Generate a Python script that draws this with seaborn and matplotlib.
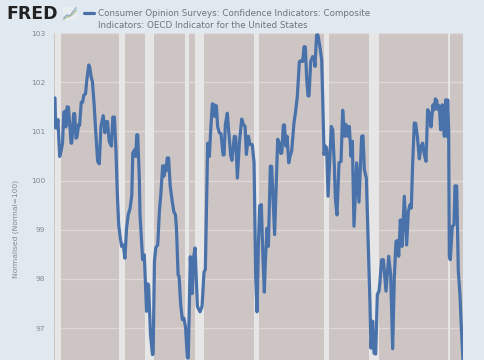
#!/usr/bin/env python
# -*- coding: utf-8 -*-

import matplotlib
matplotlib.use('Agg')
import matplotlib.pyplot as plt
import seaborn as sns
import pandas as pd

years = [
  1960.15, 1960.25, 1960.4, 1960.6, 1960.86, 1961.07, 1961.3, 1961.5, 1961.7, 1961.8, 1962.0, 1962.2,
  1962.6, 1962.7, 1963.0, 1963.15, 1963.35, 1963.5, 1963.75, 1963.9, 1964.15, 1964.35, 1964.55, 1964.8,
  1965.0, 1965.3, 1965.45, 1965.65, 1965.85, 1966.1, 1966.4, 1966.65, 1966.9, 1967.15, 1967.5, 1967.75,
  1967.9, 1968.15, 1968.4, 1968.75, 1968.95, 1969.2, 1969.45, 1969.65, 1969.85, 1970.1, 1970.3, 1970.55,
  1970.8, 1971.05, 1971.3, 1971.6, 1971.85, 1972.0, 1972.3, 1972.45, 1972.6, 1972.75, 1973.0, 1973.1,
  1973.3, 1973.5, 1973.75, 1974.1, 1974.25, 1974.4, 1974.7, 1975.0, 1975.1, 1975.3, 1975.5, 1975.8,
  1976.05, 1976.25, 1976.55, 1976.75, 1976.9, 1977.05, 1977.25, 1977.45, 1977.7, 1978.0, 1978.25, 1978.5,
  1978.65, 1978.9, 1979.05, 1979.3, 1979.55, 1979.8, 1980.05, 1980.3, 1980.45, 1980.76, 1981.05, 1981.25,
  1981.48, 1981.84, 1982.24, 1982.55, 1982.85, 1983.05, 1983.26, 1983.41, 1983.66, 1983.87, 1984.12, 1984.37,
  1984.53, 1984.73, 1984.93, 1985.19, 1985.44, 1985.75, 1985.9, 1986.1, 1986.4, 1986.6, 1986.91, 1987.1,
  1987.47, 1987.67, 1987.93, 1988.23, 1988.59, 1988.84, 1989.1, 1989.3, 1989.6, 1989.86, 1990.2, 1990.47,
  1990.72, 1990.92, 1991.13, 1991.33, 1991.58, 1991.79, 1992.04, 1992.19, 1992.45, 1992.65, 1992.95, 1993.15,
  1993.6, 1994.07, 1994.32, 1994.53, 1994.7, 1994.93, 1995.1, 1995.3, 1995.5, 1995.75, 1995.95, 1996.2,
  1996.55, 1996.8, 1997.06, 1997.37, 1997.72, 1997.87, 1998.08, 1998.28, 1998.49, 1998.69, 1998.84, 1999.1,
  1999.4, 1999.6, 1999.75, 2000.0, 2000.2, 2000.5, 2000.77, 2000.92, 2001.13, 2001.33, 2001.53, 2001.74,
  2002.24, 2002.45, 2002.7, 2002.85, 2003.1, 2003.41, 2003.72, 2003.97, 2004.27, 2004.47, 2004.73, 2004.98,
  2005.24, 2005.44, 2005.69, 2005.9, 2006.1, 2006.45, 2006.86, 2007.06, 2007.27, 2007.57, 2007.87, 2008.13,
  2008.28, 2008.53, 2008.74, 2008.99, 2009.25, 2009.5, 2009.65, 2009.9, 2010.16, 2010.57, 2010.97, 2011.28,
  2011.58, 2011.83, 2012.09, 2012.3, 2012.5, 2012.75, 2013.0, 2013.36, 2013.71, 2013.97, 2014.22, 2014.42,
  2014.63, 2014.88, 2015.08, 2015.34, 2015.64, 2015.9, 2016.15, 2016.4, 2016.66, 2016.91, 2017.16, 2017.42,
  2017.72, 2017.92, 2018.08, 2018.28, 2018.48, 2018.69, 2018.89, 2019.14, 2019.45, 2019.65, 2019.8, 2019.96,
  2020.11, 2020.21, 2020.36, 2020.67, 2020.92, 2021.07, 2021.33, 2021.58, 2021.83, 2022.04, 2022.29,
]
values = [
  101.68, 101.07, 101.07, 101.24, 100.49, 100.59, 100.76, 101.39, 101.41, 101.09, 101.5, 101.49,
  100.76, 100.76, 101.36, 101.36, 100.86, 100.88, 101.14, 101.12, 101.59, 101.59, 101.74, 101.76,
  102.05, 102.35, 102.3, 102.11, 102.01, 101.57, 100.9, 100.39, 100.34, 101.1, 101.32, 100.97,
  101.2, 101.2, 100.8, 100.7, 101.29, 101.29, 100.56, 99.71, 99.1, 98.83, 98.66, 98.69,
  98.42, 99.03, 99.3, 99.44, 99.71, 100.56, 100.63, 100.49, 100.93, 100.93, 100.02, 99.3,
  98.83, 98.39, 98.49, 97.34, 97.9, 97.88, 96.86, 96.46, 96.47, 98.36, 98.63, 98.69,
  99.37, 99.68, 100.3, 100.09, 100.3, 100.19, 100.46, 100.46, 99.89, 99.58, 99.37, 99.3,
  99.03, 98.08, 98.05, 97.47, 97.17, 97.2, 97.0, 96.39, 96.39, 98.45, 97.7, 98.42,
  98.63, 97.44, 97.33, 97.44, 98.14, 98.19, 99.71, 100.76, 100.49, 101.03, 101.56, 101.54,
  101.3, 101.52, 101.09, 100.97, 100.95, 100.52, 100.52, 101.14, 101.37, 101.02, 100.51, 100.41,
  100.9, 100.89, 100.05, 100.76, 101.25, 101.14, 101.1, 100.53, 100.9, 100.73, 100.73, 100.36,
  98.02, 97.33, 98.7, 99.49, 99.51, 98.56, 97.73, 98.36, 99.03, 98.66, 100.29, 100.29,
  98.9, 100.84, 100.76, 100.55, 100.56, 101.13, 101.13, 100.7, 100.9, 100.36, 100.49, 100.6,
  101.17, 101.4, 101.71, 102.42, 102.44, 102.42, 102.72, 102.72, 102.05, 101.72, 101.72, 102.42,
  102.52, 102.49, 102.32, 102.96, 102.96, 102.72, 102.45, 101.71, 100.53, 100.7, 100.66, 99.68,
  101.1, 101.03, 100.29, 99.64, 99.3, 100.36, 100.39, 101.43, 100.9, 101.14, 100.9, 101.1,
  100.49, 100.8, 99.07, 99.71, 100.36, 99.56, 100.9, 100.91, 100.22, 100.05, 98.69, 97.47,
  96.59, 97.14, 96.49, 96.47, 97.68, 97.75, 97.95, 98.39, 98.39, 97.75, 98.46, 98.08,
  96.58, 98.02, 98.76, 98.78, 98.46, 99.2, 98.66, 99.68, 98.69, 99.37, 99.51, 99.44,
  100.36, 101.17, 101.16, 100.9, 100.44, 100.7, 100.76, 100.53, 100.39, 101.44, 101.37, 101.09,
  101.54, 101.44, 101.66, 101.63, 101.44, 101.52, 101.03, 101.54, 100.9, 101.64, 100.9, 101.64,
  101.03, 98.46, 98.39, 99.07, 99.1, 99.89, 99.89, 98.15, 97.68, 97.0, 96.35,
]
rec_start = [1960.17, 1969.92, 1973.83, 1980.0, 1981.5, 1990.5, 2001.17, 2007.92, 2020.08]
rec_end = [1961.08, 1970.83, 1975.17, 1980.5, 1982.83, 1991.17, 2001.83, 2009.5, 2020.25]
y_ticks = [97, 98, 99, 100, 101, 102, 103]

W, H = 485, 360
LINE = '#4a72aa'
TXT = '#6f7478'

df = pd.DataFrame({'year': years, 'value': values})

sns.set_style('white')
fig = plt.figure(figsize=(W/100, H/100), dpi=100, facecolor='#e1e9f0')
ax = fig.add_axes([54/W, 0, (463.5-54)/W, (360-33)/H], facecolor='#cdc5c4')

for s, e in zip(rec_start, rec_end):
  ax.axvspan(s, e, color='#e6e6e6', lw=0, zorder=1.5)

ax.set_yticks(y_ticks)
ax.grid(axis='y', color='#dfd8d7', lw=1, zorder=1)
ax.set_axisbelow(True)

sns.lineplot(data=df, x='year', y='value', estimator=None, color=LINE, lw=2.3, ax=ax, zorder=3)

ax.set_xlim(1960, 2022.37)
ax.set_ylim(96.35, 103)
ax.set_xticks([])
ax.set_xlabel('')
ax.set_ylabel('')
ax.tick_params(axis='y', length=0, pad=6.5, labelsize=5.4, labelcolor='#85898d')
sns.despine(ax=ax, left=True, bottom=True)

fig.text(15.5/W, 1-229/H, 'Normalised (Normal=100)', rotation=90, fontsize=5.4, color='#85898d', ha='center', va='center')

# legend header
fig.add_artist(plt.Line2D([84/W, 94/W], [1-13/H, 1-13/H], color=LINE, lw=2.3))
fig.text(98/W, 1-13.5/H, 'Consumer Opinion Surveys: Confidence Indicators: Composite',
         fontsize=6.33, color=TXT, va='center')
fig.text(98/W, 1-25.5/H, 'Indicators: OECD Indicator for the United States',
         fontsize=6.33, color=TXT, va='center')

# FRED logo
fig.text(6/W, 1-14/H, 'FRED', fontsize=12.4, fontweight='bold', color='#222222', va='center')
icon = fig.add_axes([63/W, 1-20/H, 14/W, 13/H], facecolor='#e9edf0')
icon.plot([0, 1, 2, 3, 4], [0.5, 1.2, 1, 2, 2.8], color='#8fa9c8', lw=0.9)
icon.plot([0, 1, 2, 3, 4], [0.2, 0.7, 0.9, 1.4, 2.2], color='#a9bd8c', lw=0.9)
icon.set_xticks([])
icon.set_yticks([])
sns.despine(ax=icon, left=True, bottom=True)

fig.savefig('out.png', dpi=100, facecolor=fig.get_facecolor())
